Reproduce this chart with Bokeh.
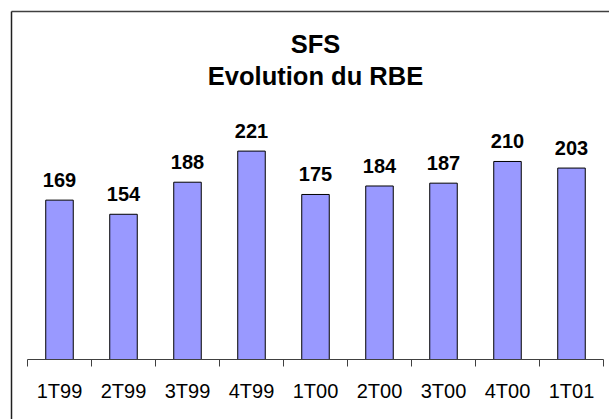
from bokeh.plotting import figure
from bokeh.models import Range1d, LinearAxis, FixedTicker, ColumnDataSource, Label
from bokeh.embed import file_html
from bokeh.resources import INLINE
from bokeh.core.properties import value

# ---- data ----
categories = ["1T99", "2T99", "3T99", "4T99", "1T00", "2T00", "3T00", "4T00", "1T01"]
rbe = [169, 154, 188, 221, 175, 184, 187, 210, 203]
title_lines = ["SFS", "Evolution du RBE"]

FONT = "Liberation Sans"

# ---- layout constants (pixels) ----
W, H = 609, 419
BORDER = 11                # frame starts 11px inside the canvas
FRAME_W = W - BORDER
FRAME_H = H - BORDER
PX_PER_CAT = 64.0
FIRST_BOUND_GAP = 16       # px from frame left to first category boundary
AXIS_FROM_TOP = 348        # px from frame top to the category axis line
PX_PER_UNIT = 0.943
TITLE_BASELINES = [32, 64]  # px from frame top
LABEL_OFFSET = -20          # px, value labels above bar tops

xs = list(range(1, len(categories) + 1))
bounds = [x - 0.5 for x in xs] + [xs[-1] + 0.5]
src = ColumnDataSource(dict(x=xs, top=rbe, label=[str(v) for v in rbe]))

x_start = bounds[0] - FIRST_BOUND_GAP / PX_PER_CAT
x_end = x_start + FRAME_W / PX_PER_CAT
y_end = AXIS_FROM_TOP / PX_PER_UNIT
y_start = -(FRAME_H - AXIS_FROM_TOP) / PX_PER_UNIT

p = figure(width=W, height=H, output_backend="svg", toolbar_location=None,
           x_range=Range1d(x_start, x_end), y_range=Range1d(y_start, y_end),
           x_axis_location=None, y_axis_location=None,
           min_border_left=BORDER, min_border_right=0, min_border_top=BORDER,
           min_border_bottom=0)
p.outline_line_color = None
p.xgrid.visible = False
p.ygrid.visible = False
p.background_fill_color = "white"
p.border_fill_color = "white"


def line_axis(color):
    a = LinearAxis(ticker=FixedTicker(ticks=[]))
    a.axis_line_color = color
    a.axis_line_width = 1.5
    a.major_tick_out = 0
    a.major_tick_in = 0
    a.minor_tick_out = 0
    a.minor_tick_in = 0
    a.major_label_standoff = 0
    a.axis_label_standoff = 0
    a.major_label_text_font_size = "0px"
    return a


# chart-area border (left and top edges; right/bottom lie outside the picture)
p.add_layout(line_axis("#202020"), "left")
p.add_layout(line_axis("#404040"), "above")

# title
center_x = (xs[0] + xs[-1]) / 2
for line, base in zip(title_lines, TITLE_BASELINES):
    p.add_layout(Label(x=center_x, y=(AXIS_FROM_TOP - base) / PX_PER_UNIT,
                       text=line, text_align="center", text_baseline="alphabetic",
                       text_font=FONT, text_font_style="bold",
                       text_font_size="25.5px", text_color="black"))

# bars
p.vbar(x="x", top="top", bottom=0, width=0.43, source=src,
       fill_color="#9999FF", line_color="#000000", line_width=1)

# value labels
p.text(x="x", y="top", text="label", source=src, text_align="center",
       text_baseline="alphabetic", y_offset=LABEL_OFFSET, text_font=value(FONT),
       text_font_style="bold", text_font_size="20px", text_color="black")

# category axis
ax = LinearAxis(ticker=FixedTicker(ticks=xs, minor_ticks=bounds),
                major_label_overrides={x: c for x, c in zip(xs, categories)},
                fixed_location=0, bounds=(bounds[0], bounds[-1]))
ax.major_tick_line_color = None
ax.major_tick_out = 0
ax.major_tick_in = 0
ax.minor_tick_out = 7
ax.minor_tick_in = 0
ax.minor_tick_line_color = "#404040"
ax.axis_line_color = "#404040"
ax.major_label_standoff = 13
ax.major_label_text_font = FONT
ax.major_label_text_font_size = "20px"
ax.major_label_text_color = "black"
p.add_layout(ax, "below")

open("out.html", "w").write(file_html(p, INLINE))
